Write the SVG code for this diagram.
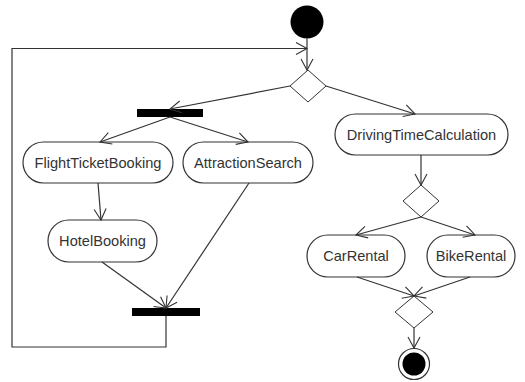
<svg xmlns="http://www.w3.org/2000/svg" width="525" height="382" viewBox="0 0 525 382">
<defs>
<style>
.node rect.act{fill:#fff;stroke:#333;stroke-width:1.2}
.node text{font-family:"Liberation Sans",Arial,sans-serif;font-size:14.6px;fill:#333;text-anchor:middle;dominant-baseline:central}
.bar{fill:#000}
.dia{fill:#fff;stroke:#333;stroke-width:1}
.edge{fill:none;stroke:#333;stroke-width:1.2}
</style>
<marker id="arr" markerUnits="userSpaceOnUse" markerWidth="16" markerHeight="16" refX="12" refY="7" orient="auto">
<path d="M1,1 L12,7 L1,13" fill="none" stroke="#333" stroke-width="1.1"/>
</marker>
</defs>
<rect width="525" height="382" fill="#fff"/>
<g id="start" class="node"><circle cx="307" cy="22" r="16.5" fill="#000"/></g>
<g id="decision1" class="node"><polygon class="dia" points="308,70 326,86 308,102 290,86"/></g>
<g id="fork1" class="node"><rect class="bar" x="137" y="109" width="66" height="8"/></g>
<g id="flight" class="node"><rect class="act" x="23" y="142" width="150" height="41" rx="20.5"/><text x="98" y="163">FlightTicketBooking</text></g>
<g id="attraction" class="node"><rect class="act" x="183" y="142" width="130" height="41" rx="20.5"/><text x="248" y="163">AttractionSearch</text></g>
<g id="hotel" class="node"><rect class="act" x="48" y="220" width="109" height="42" rx="21"/><text x="102.5" y="241">HotelBooking</text></g>
<g id="join1" class="node"><rect class="bar" x="132" y="308" width="68" height="8"/></g>
<g id="driving" class="node"><rect class="act" x="335" y="114" width="173" height="41" rx="20.5"/><text x="421.5" y="135">DrivingTimeCalculation</text></g>
<g id="decision2" class="node"><polygon class="dia" points="421,185 439,201 421,217 403,201"/></g>
<g id="car" class="node"><rect class="act" x="307" y="235" width="98" height="42" rx="21"/><text x="356" y="256">CarRental</text></g>
<g id="bike" class="node"><rect class="act" x="427" y="235" width="88" height="42" rx="21"/><text x="471" y="256">BikeRental</text></g>
<g id="merge" class="node"><polygon class="dia" points="414,296 433,312 414,328 395,312"/></g>
<g id="end" class="node"><circle cx="414" cy="364" r="15.5" fill="#fff" stroke="#333" stroke-width="1.2"/><circle cx="414" cy="364" r="11.5" fill="#000"/></g>
<g id="connectors">
<path class="edge" d="M307,38.5 L307,70" marker-end="url(#arr)"/>
<path class="edge" d="M166,316 L166,347 L12,347 L12,48.5 L307,48.5" marker-end="url(#arr)"/>
<path class="edge" d="M290,86 L170,109" marker-end="url(#arr)"/>
<path class="edge" d="M326,86 L415,114" marker-end="url(#arr)"/>
<path class="edge" d="M170,117 L100,142" marker-end="url(#arr)"/>
<path class="edge" d="M170,117 L248,142" marker-end="url(#arr)"/>
<path class="edge" d="M98,183 L101,220" marker-end="url(#arr)"/>
<path class="edge" d="M102,262 L166,308" marker-end="url(#arr)"/>
<path class="edge" d="M249,183 L166,308" marker-end="url(#arr)"/>
<path class="edge" d="M421,155 L421,185" marker-end="url(#arr)"/>
<path class="edge" d="M421,217 L356,235" marker-end="url(#arr)"/>
<path class="edge" d="M421,217 L475,235" marker-end="url(#arr)"/>
<path class="edge" d="M357,277 L414,296" marker-end="url(#arr)"/>
<path class="edge" d="M470,277 L414,296" marker-end="url(#arr)"/>
<path class="edge" d="M414,328 L414,348" marker-end="url(#arr)"/>
</g>
</svg>
